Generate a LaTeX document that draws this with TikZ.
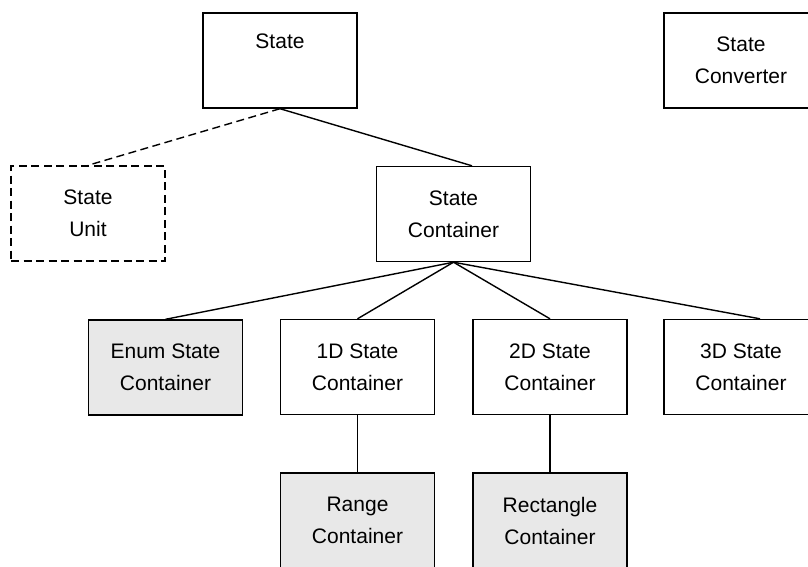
\documentclass[tikz,border=0pt]{standalone}
\usepackage{fontspec}
\setmainfont{Liberation Sans}
\usetikzlibrary{calc}
\definecolor{boxgray}{RGB}{232,232,232}
\begin{document}
\begin{tikzpicture}[x=1pt,y=-1pt,
  box/.style={draw=black, line width=1.4pt, minimum width=154pt, minimum height=95pt,
    inner sep=0pt, align=center, font=\fontsize{21}{32}\selectfont, fill=white},
  grayfill/.style={fill=boxgray},
  dashbox/.style={dash pattern=on 8pt off 4.5pt},
  link/.style={draw=black, line width=1.4pt},
  dashlink/.style={link, dash pattern=on 8pt off 4.5pt}]
\useasboundingbox (0,0) rectangle (808,566);
\clip (0,0) rectangle (808,566);
\node[box] (state) at (280,60.5) {\raisebox{-3pt}{State}\\\strut};
\node[box] (conv) at (741,60.5) {State\\Converter};
\node[box, dashbox] (unit) at (88,213.5) {State\\Unit};
\node[box] (sc) at (453.5,214) {State\\Container};
\node[box, grayfill] (enum) at (165.5,367.5) {Enum State\\Container};
\node[box] (one) at (357.5,367) {1D State\\Container};
\node[box] (two) at (550,367) {2D State\\Container};
\node[box] (three) at (741,367) {3D State\\Container};
\node[box, grayfill] (range) at (357.5,520.5) {Range\\Container};
\node[box, grayfill] (rect) at (550,520.5) {Rectangle\\Container};
\coordinate (scin) at ($(sc.north)+(18.5,0)$);
\coordinate (threein) at ($(three.north)+(19,0)$);
\draw[link] (state.south) -- (scin);
\draw[dashlink] (state.south) -- (unit.north);
\draw[link] (sc.south) -- (enum.north);
\draw[link] (sc.south) -- (one.north);
\draw[link] (sc.south) -- (two.north);
\draw[link] (sc.south) -- (threein);
\draw[link] (one.south) -- (range.north);
\draw[link] (two.south) -- (rect.north);
\end{tikzpicture}
\end{document}
